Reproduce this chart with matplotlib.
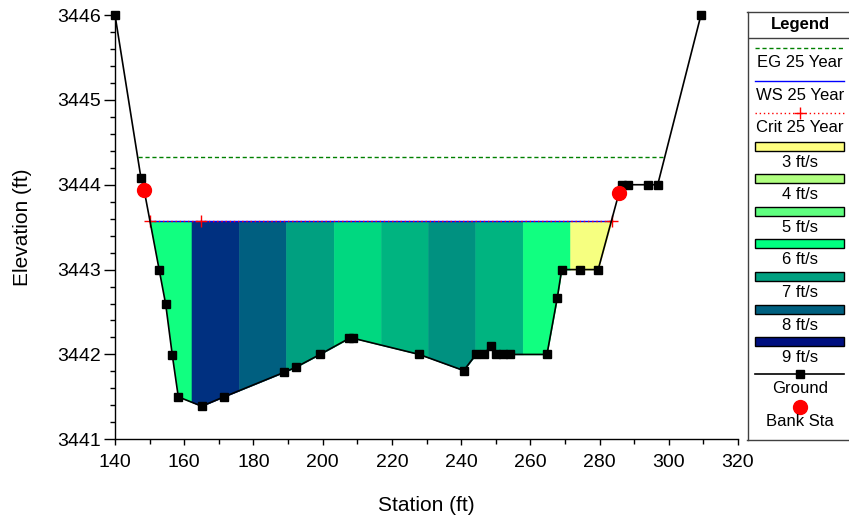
import numpy as np
import matplotlib
matplotlib.use("Agg")
import matplotlib.pyplot as plt
from matplotlib.colors import LinearSegmentedColormap
from matplotlib.patches import Rectangle
from matplotlib.ticker import MultipleLocator

plt.rcParams['font.family'] = ['Liberation Sans', 'DejaVu Sans']

# ---- cross-section data -------------------------------------------------
station = np.array([140.0, 147.5, 148.4, 152.8, 154.65, 156.56, 158.29, 165.05,
                    171.49, 188.92, 192.30, 199.23, 207.7, 208.9, 227.9, 240.75,
                    244.3, 246.6, 248.55, 250.0, 252.0, 254.0, 264.8, 267.8,
                    269.06, 274.4, 279.6, 285.6, 286.5, 288.3, 294.0, 296.8, 309.3])
elevation = np.array([3446.0, 3444.08, 3443.94, 3442.99, 3442.59, 3441.99, 3441.50, 3441.39,
                      3441.50, 3441.79, 3441.85, 3442.00, 3442.19, 3442.19, 3442.00, 3441.81,
                      3442.00, 3442.00, 3442.10, 3442.00, 3442.00, 3442.00, 3442.00, 3442.67,
                      3443.00, 3443.00, 3443.00, 3443.90, 3444.00, 3444.00, 3444.00, 3444.00, 3446.0])

bank_station = [148.4, 285.6]
bank_elev = [3443.94, 3443.90]

eg_elev = 3444.33
ws_elev = 3443.57
crit_elev = 3443.57
crit_marks = [150.0, 164.85, 283.5]

# velocity distribution strips (edges in ft, velocity in ft/s)
strip_edges = [150.0, 162.1, 175.8, 189.4, 203.2, 216.9, 230.5, 244.1, 257.8, 271.5, 283.5]
strip_vel = [5.83, 8.6, 8.0, 7.0, 6.41, 6.78, 7.23, 6.78, 5.83, 3.13]

legend_vel = [3, 4, 5, 6, 7, 8, 9]
legend_colors = ['#FFFF80', '#B0FF80', '#60FF80', '#00FF80', '#00A080', '#006080', '#001080']

vel_cmap = LinearSegmentedColormap.from_list(
    'vel', [((v - 3) / 6.0, c) for v, c in zip(legend_vel, legend_colors)])

def vel_color(v):
    return vel_cmap((v - 3) / 6.0)

# ---- styles -------------------------------------------------------------
eg_style = dict(color='#008000', lw=1.0, ls=(0, (3, 2)))
ws_style = dict(color='#0000FF', lw=1.0, ls='-')
crit_style = dict(color='#FF0000', lw=1.0, ls=(0, (1, 2)))
ground_style = dict(color='black', lw=1.2, marker='s', ms=6, mfc='black', mec='black')
bank_style = dict(color='#FF0000', marker='o', ms=10, ls='none')

W, H = 849, 520
fig = plt.figure(figsize=(W / 100, H / 100), dpi=100)
ax = fig.add_axes([115 / W, 1 - 439.3 / H, 623 / W, (439.3 - 15) / H])

# velocity strips clipped between ground and water surface
for (a, b), v in zip(zip(strip_edges[:-1], strip_edges[1:]), strip_vel):
    inner = station[(station > a) & (station < b)]
    xs = np.unique(np.concatenate([[a, b], inner]))
    gz = np.minimum(np.interp(xs, station, elevation), ws_elev)
    c = vel_color(v)
    ax.fill_between(xs, gz, ws_elev, facecolor=c, edgecolor=c, lw=0.4, zorder=1)

# energy grade line spans between ground intersections
def ground_cross(z):
    left = np.interp(z, elevation[:3][::-1], station[:3][::-1])
    right = np.interp(z, elevation[-5:], station[-5:])
    return left, right

egl, egr = ground_cross(eg_elev)
ax.plot([egl, egr], [eg_elev, eg_elev], zorder=2, **eg_style)
ax.plot([strip_edges[0], strip_edges[-1]], [ws_elev, ws_elev], zorder=3, **ws_style)
ax.plot([strip_edges[0], strip_edges[-1]], [crit_elev, crit_elev], zorder=4, **crit_style)
ax.plot(crit_marks, [crit_elev] * len(crit_marks), ls='none', marker='+', ms=8,
        mew=1.0, color='#FF0000', zorder=5)

ax.plot(station, elevation, zorder=6, clip_on=False, **ground_style)
ax.plot(bank_station, bank_elev, zorder=7, clip_on=False, **bank_style)

ax.set_xlim(140, 320)
ax.set_ylim(3441, 3446)
ax.xaxis.set_major_locator(MultipleLocator(20))
ax.xaxis.set_minor_locator(MultipleLocator(10))
ax.yaxis.set_major_locator(MultipleLocator(1))
ax.yaxis.set_minor_locator(MultipleLocator(0.2))
ax.spines['top'].set_visible(False)
ax.spines['right'].set_visible(False)
for s in ('left', 'bottom'):
    ax.spines[s].set_linewidth(1.0)
ax.tick_params(axis='y', which='major', direction='out', length=8, width=1, labelsize=14, pad=2)
ax.tick_params(axis='y', which='minor', direction='out', length=3.5, width=1)
ax.tick_params(axis='x', which='major', direction='out', length=4, width=1, labelsize=14, pad=6.5)
ax.tick_params(axis='x', which='minor', direction='out', length=3.5, width=1)
ax.set_xlabel('Station (ft)', fontsize=15, labelpad=18)
ax.set_ylabel('Elevation (ft)', fontsize=15, labelpad=18)

# ---- legend panel -------------------------------------------------------
lx0, lx1, ly0, ly1 = 747.5, 870, 12, 440
lax = fig.add_axes([lx0 / W, 1 - ly1 / H, (lx1 - lx0) / W, (ly1 - ly0) / H])
lax.set_xlim(lx0, lx1)
lax.set_ylim(ly1, ly0)
lax.set_xticks([])
lax.set_yticks([])
for s in lax.spines.values():
    s.set_color('#404040')
    s.set_linewidth(1.0)

cx = 800
x0, x1 = 755, 844
fs = 12
lax.text(cx, 25, 'Legend', ha='center', va='center', fontsize=fs, fontweight='bold')
lax.plot([lx0, lx1], [37.7, 37.7], color='#404040', lw=1.0)

lax.plot([x0, x1], [47.7, 47.7], **eg_style)
lax.text(cx, 62.7, 'EG 25 Year', ha='center', va='center', fontsize=fs)
lax.plot([x0, x1], [80.7, 80.7], **ws_style)
lax.text(cx, 96, 'WS 25 Year', ha='center', va='center', fontsize=fs)
lax.plot([x0, x1], [113.3, 113.3], **crit_style)
lax.plot([cx], [113.3], marker='+', ms=8, mew=1.0, color='#FF0000')
lax.text(cx, 127.3, 'Crit 25 Year', ha='center', va='center', fontsize=fs)

rect_tops = [141.7, 174.2, 206.7, 239.3, 271.8, 304.6, 337.3]
for v, col, top in zip(legend_vel, legend_colors, rect_tops):
    lax.add_patch(Rectangle((x0, top), x1 - x0, 9, facecolor=col, edgecolor='black', lw=1.0))
    lax.text(cx, top + 20.5, f'{v} ft/s', ha='center', va='center', fontsize=fs)

lax.plot([x0, x1], [374.3, 374.3], color='black', lw=1.2)
lax.plot([cx], [374.3], marker='s', ms=6, color='black')
lax.text(cx, 388.3, 'Ground', ha='center', va='center', fontsize=fs)
lax.plot([cx], [407.3], **bank_style)
lax.text(cx, 421.7, 'Bank Sta', ha='center', va='center', fontsize=fs)

fig.savefig('out.png', dpi=100)
